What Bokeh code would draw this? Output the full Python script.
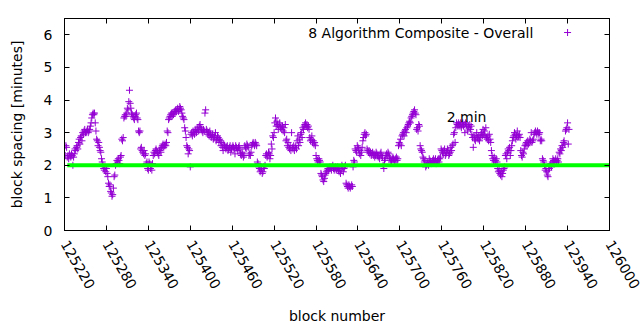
import math
from bokeh.plotting import figure
from bokeh.models import Range1d, FixedTicker, LinearAxis, Label, BasicTickFormatter
from bokeh.embed import file_html
from bokeh.resources import INLINE

FONT = "DejaVu Sans"

# ---- data -------------------------------------------------------------
first_block = 125221
spacing = [
    # 125221-125280
    2.3, 2.6, 2.55, 2.25, 2.3, 2.2, 2.35, 2.3, 2.25, 2.35,
    2.3, 2.0, 2.25, 2.35, 2.5, 2.45, 2.55, 2.6, 2.5, 2.7,
    2.8, 2.65, 2.85, 2.9, 2.75, 3.0, 2.95, 3.05, 3.1, 3.0,
    3.0, 3.05, 3.1, 3.0, 3.05, 3.1, 3.2, 3.3, 3.45, 3.55,
    3.6, 3.55, 3.6, 3.3, 3.05, 2.8, 2.75, 2.6, 2.7, 2.55,
    2.45, 2.4, 2.2, 2.1, 2.0, 1.9, 1.85, 1.95, 1.8, 1.9,
    # 125281-125340
    1.75, 1.65, 1.45, 1.35, 1.4, 1.2, 1.15, 1.05, 1.1, 1.3,
    1.65, 1.7, 2.0, 2.05, 2.15, 2.1, 2.2, 2.15, 2.05, 2.25,
    2.3, 2.8, 2.75, 2.85, 3.45, 3.5, 3.55, 3.5, 3.6, 3.75,
    3.7, 3.95, 4.3, 3.9, 3.75, 3.6, 3.55, 3.5, 3.45, 3.4,
    3.5, 3.55, 3.6, 3.45, 3.4, 3.05, 3.0, 3.05, 2.5, 2.55,
    2.45, 2.4, 2.35, 2.45, 2.3, 2.35, 2.05, 2.1, 1.9, 1.85,
    # 125341-125400
    2.1, 2.05, 1.9, 2.0, 1.85, 2.05, 2.3, 2.4, 2.35, 2.45,
    2.5, 2.45, 2.4, 2.35, 2.3, 2.45, 2.5, 2.4, 2.55, 2.6,
    2.65, 2.55, 2.6, 2.65, 2.6, 2.7, 3.05, 3.0, 3.4, 3.45,
    3.5, 3.55, 3.6, 3.5, 3.6, 3.55, 3.65, 3.6, 3.7, 3.65,
    3.7, 3.75, 3.65, 3.7, 3.8, 3.75, 3.7, 3.6, 3.5, 3.45,
    3.4, 3.15, 3.05, 2.85, 2.6, 2.55, 2.35, 2.5, 2.45, 1.95,
    # 125401-125460
    2.95, 3.0, 2.9, 3.05, 3.0, 2.95, 3.1, 3.05, 3.0, 3.1,
    3.15, 3.05, 3.2, 3.25, 3.15, 3.1, 3.05, 3.0, 3.1, 3.05,
    3.6, 3.7, 3.1, 3.05, 2.95, 3.0, 2.9, 3.05, 2.95, 2.85,
    2.9, 2.95, 2.8, 2.85, 2.9, 3.0, 2.75, 2.8, 2.9, 2.85,
    2.7, 2.8, 2.75, 2.6, 2.7, 2.55, 2.45, 2.65, 2.6, 2.55,
    2.5, 2.55, 2.6, 2.45, 2.5, 2.55, 2.6, 2.4, 2.5, 2.55,
    # 125461-125520
    2.6, 2.55, 2.5, 2.35, 2.6, 2.55, 2.5, 2.45, 2.55, 2.6,
    2.5, 2.35, 2.3, 2.4, 2.35, 2.25, 2.3, 2.6, 2.55, 2.5,
    2.65, 2.6, 2.55, 2.3, 2.35, 2.3, 2.4, 2.6, 2.65, 2.7,
    2.65, 2.6, 2.7, 2.65, 2.6, 2.1, 2.05, 1.95, 1.9, 1.8,
    1.85, 1.9, 1.75, 1.8, 1.95, 1.9, 2.0, 2.3, 2.35, 2.25,
    2.3, 2.4, 2.35, 2.2, 2.3, 2.65, 2.5, 2.9, 2.85, 3.0,
    # 125521-125580
    3.3, 3.45, 3.2, 3.35, 3.25, 3.1, 3.2, 3.3, 3.15, 3.2,
    3.1, 3.2, 3.05, 3.15, 3.0, 3.25, 2.75, 2.8, 2.6, 2.7,
    2.55, 2.5, 2.6, 2.45, 3.0, 2.55, 2.5, 2.6, 2.45, 2.55,
    2.6, 2.5, 2.75, 2.9, 2.6, 2.8, 2.7, 2.95, 3.0, 2.85,
    3.15, 3.1, 3.2, 3.25, 3.3, 3.2, 3.25, 3.15, 3.2, 3.1,
    2.85, 2.75, 2.8, 2.9, 2.7, 2.75, 2.65, 2.7, 2.6, 2.3,
    # 125581-125640
    2.2, 2.15, 2.1, 2.2, 2.15, 2.1, 1.75, 1.7, 1.65, 1.55,
    1.5, 1.6, 1.7, 1.75, 1.8, 1.85, 1.9, 1.85, 1.9, 1.95,
    1.9, 1.85, 1.95, 2.0, 1.9, 1.85, 1.9, 1.95, 1.85, 1.9,
    1.95, 1.85, 1.8, 1.9, 1.75, 1.85, 2.0, 1.95, 1.8, 1.9,
    1.95, 2.0, 1.45, 1.4, 1.35, 1.3, 1.4, 1.35, 1.3, 1.35,
    1.4, 1.35, 1.95, 2.15, 2.1, 2.5, 2.45, 2.4, 2.6, 2.55,
    # 125641-125700
    2.5, 2.35, 2.45, 2.3, 2.4, 2.55, 2.75, 2.85, 2.95, 3.0,
    2.9, 2.95, 2.5, 2.45, 2.4, 2.45, 2.35, 2.4, 2.3, 2.35,
    2.4, 2.3, 2.35, 2.25, 2.3, 2.4, 2.35, 2.3, 2.25, 2.3,
    2.2, 2.35, 2.4, 2.3, 2.25, 2.0, 1.9, 2.15, 2.2, 2.3,
    2.35, 2.3, 2.4, 2.35, 2.25, 2.2, 2.15, 2.1, 2.2, 2.25,
    2.2, 2.15, 2.1, 2.2, 2.25, 2.15, 2.2, 2.6, 2.7, 2.65,
    # 125701-125760
    2.8, 2.6, 2.9, 2.95, 3.0, 2.9, 3.05, 3.1, 3.0, 3.15,
    3.2, 3.25, 3.3, 3.35, 3.3, 3.45, 3.5, 3.55, 3.6, 3.65,
    3.7, 3.6, 3.55, 3.1, 3.15, 3.05, 3.25, 3.2, 2.6, 2.5,
    2.45, 2.4, 2.25, 2.2, 2.1, 2.15, 1.95, 2.0, 2.05, 2.1,
    2.0, 2.2, 2.15, 2.1, 2.05, 2.1, 2.15, 2.2, 2.1, 2.15,
    2.2, 2.05, 2.1, 2.15, 2.2, 2.1, 2.2, 2.25, 2.5, 2.45,
    # 125761-125820
    2.4, 2.35, 2.45, 2.5, 2.3, 2.35, 2.4, 2.5, 2.45, 2.3,
    2.35, 2.4, 2.55, 2.45, 2.6, 2.65, 2.95, 3.0, 2.7, 3.15,
    3.3, 3.25, 3.2, 3.3, 3.25, 3.2, 3.3, 3.15, 3.25, 3.3,
    3.2, 3.25, 3.0, 3.3, 3.2, 3.25, 3.05, 3.2, 3.15, 3.25,
    3.1, 3.2, 2.95, 2.85, 2.55, 2.9, 2.8, 2.75, 2.9, 3.0,
    2.85, 2.8, 2.9, 2.75, 2.85, 2.95, 3.0, 2.9, 3.1, 2.95,
    # 125821-125880
    3.05, 2.9, 3.15, 2.85, 2.8, 2.9, 2.75, 2.95, 2.8, 2.7,
    2.45, 2.3, 2.2, 2.15, 2.25, 2.1, 2.15, 2.2, 2.1, 1.9,
    1.8, 1.85, 1.75, 1.7, 1.8, 1.65, 1.75, 1.85, 1.9, 1.95,
    2.3, 2.35, 2.2, 2.4, 2.5, 2.45, 2.55, 2.3, 2.45, 2.6,
    2.75, 2.85, 2.9, 3.0, 2.95, 2.8, 2.9, 3.05, 2.85, 2.9,
    2.95, 2.85, 2.45, 2.3, 2.25, 2.4, 2.35, 2.5, 2.6, 2.65,
    # 125881-125942
    2.7, 2.6, 2.75, 2.65, 2.7, 2.8, 2.75, 3.0, 2.7, 2.75,
    2.8, 2.95, 3.0, 3.05, 3.0, 2.95, 3.05, 3.0, 2.95, 3.0,
    2.75, 2.8, 2.75, 2.2, 2.15, 2.1, 2.0, 1.85, 1.9, 1.8,
    1.7, 1.65, 1.85, 1.9, 2.0, 2.05, 1.95, 2.1, 2.2, 2.15,
    2.1, 2.15, 2.2, 2.1, 2.15, 2.2, 2.1, 2.4, 2.35, 2.5,
    2.45, 2.6, 2.55, 2.7, 2.75, 2.65, 3.05, 3.1, 3.15, 3.3,
    2.65, 3.1,
]
blocks = [first_block + i for i in range(len(spacing))]

target_blocks = [125224, 126000]
target_minutes = [2, 2]

x_ticks = [125220, 125280, 125340, 125400, 125460, 125520, 125580,
           125640, 125700, 125760, 125820, 125880, 125940, 126000]
y_ticks = [0, 1, 2, 3, 4, 5, 6]

series_name = "8 Algorithm Composite - Overall"
target_label = "2 min"

# ---- figure -----------------------------------------------------------
p = figure(width=640, height=330, output_backend="svg", toolbar_location=None,
           x_range=Range1d(125220, 126000), y_range=Range1d(0, 6.5),
           min_border_left=64, min_border_right=31, min_border_top=18,
           min_border_bottom=100)
p.xgrid.visible = False
p.ygrid.visible = False
p.outline_line_color = "black"
p.outline_line_width = 1
p.outline_line_alpha = 1
p.background_fill_color = "white"
p.border_fill_color = "white"


def style_axis(ax, labels=True):
    ax.major_tick_in = 5
    ax.major_tick_out = 0
    ax.minor_tick_line_color = None
    ax.major_tick_line_color = "black"
    ax.axis_line_color = "black"
    ax.major_label_text_font = FONT
    ax.major_label_text_font_size = "14px"
    ax.major_label_text_color = "black" if labels else None
    ax.axis_label_text_font = FONT
    ax.axis_label_text_font_size = "14px"
    ax.axis_label_text_font_style = "normal"
    ax.axis_label_text_color = "black"


xa = p.xaxis[0]
ya = p.yaxis[0]
style_axis(xa)
style_axis(ya)
xa.ticker = FixedTicker(ticks=x_ticks)
xa.formatter = BasicTickFormatter(use_scientific=False)
ya.ticker = FixedTicker(ticks=y_ticks)
xa.major_label_orientation = -math.pi / 3
xa.major_label_standoff = 11
xa.axis_label = "block number"
xa.axis_label_standoff = 12
ya.major_label_standoff = 12
ya.axis_label = "block spacing [minutes]"
ya.axis_label_standoff = 16

top = LinearAxis(ticker=FixedTicker(ticks=x_ticks))
style_axis(top, labels=False)
top.major_label_standoff = 0
p.add_layout(top, "above")
right = LinearAxis(ticker=FixedTicker(ticks=y_ticks))
style_axis(right, labels=False)
right.major_label_standoff = 0
p.add_layout(right, "right")

# data points
p.scatter(blocks, spacing, marker="cross", size=7, line_color="#9400d3",
          line_width=1)

# 2-minute target line
p.line(target_blocks, target_minutes, line_color="#00ff00", line_width=4)

# key (gnuplot-style: text right-aligned, sample to its right)
p.add_layout(Label(x=125891, y=6.07, text=series_name, text_align="right",
                   text_baseline="middle", text_font=FONT,
                   text_font_size="14px", text_color="black"))
p.scatter([125940], [6.07], marker="cross", size=7, line_color="#9400d3",
          line_width=1)

p.add_layout(Label(x=125767, y=3.48, text=target_label, text_align="left",
                   text_baseline="middle", text_font=FONT,
                   text_font_size="14px", text_color="black"))

open("out.html", "w").write(file_html(p, INLINE))
